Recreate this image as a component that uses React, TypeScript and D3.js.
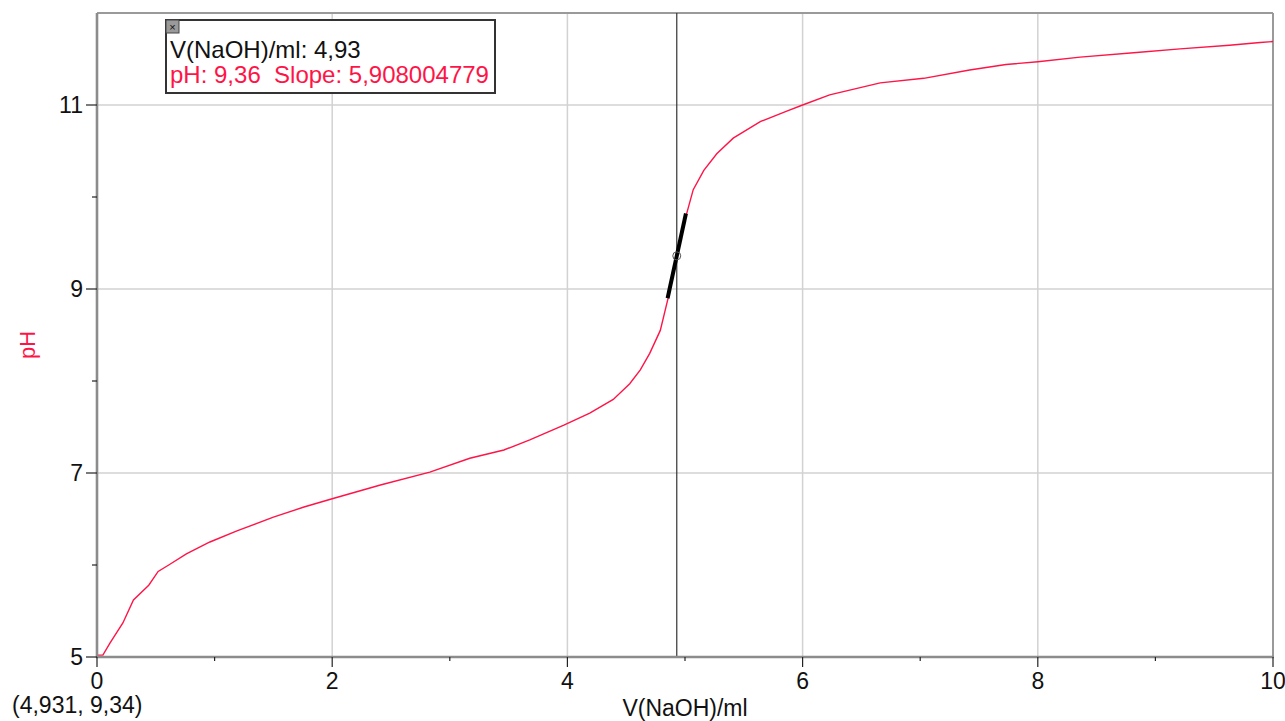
import React from "react";
import * as d3 from "d3";

// titration data
const volume = [0, 0.05, 0.11, 0.22, 0.31, 0.44, 0.52, 0.61, 0.76, 0.96, 1.19, 1.5, 1.76, 2.0, 2.41, 2.83, 3.17, 3.46, 3.68, 3.97, 4.19, 4.39, 4.53, 4.62, 4.7, 4.79, 4.86, 4.93, 5.01, 5.07, 5.16, 5.27, 5.41, 5.64, 5.86, 6.0, 6.23, 6.66, 7.03, 7.42, 7.73, 8.0, 8.36, 8.84, 9.21, 9.63, 9.89, 10.0];
const pH = [5.02, 5.02, 5.15, 5.37, 5.62, 5.78, 5.93, 6.0, 6.12, 6.25, 6.37, 6.52, 6.63, 6.72, 6.87, 7.01, 7.16, 7.25, 7.36, 7.52, 7.65, 7.8, 7.97, 8.12, 8.3, 8.55, 8.92, 9.36, 9.8, 10.08, 10.29, 10.47, 10.64, 10.82, 10.93, 11.0, 11.11, 11.24, 11.29, 11.38, 11.44, 11.47, 11.52, 11.57, 11.61, 11.65, 11.68, 11.69];

const xMajor = [0, 2, 4, 6, 8, 10];
const xMinor = [1, 3, 5, 7, 9];
const yMajor = [5, 7, 9, 11];
const yMinor = [6, 8, 10];

// examine cursor / tangent
const cursorV = 4.93;
const cursorPH = 9.36;
const slope = 5.908004779;
const tangentHalf = 0.078;
const readout = "(4,931, 9,34)";
const xTitle = "V(NaOH)/ml";
const yTitle = "pH";

const RED = "#ff1447";
const FONT = "'Liberation Sans', Arial, sans-serif";

export default function App() {
  const width = 1285;
  const height = 721;
  const left = 97, right = 1273, top = 13, bottom = 657;

  const x = d3.scaleLinear().domain([0, 10]).range([left, right]);
  const y = d3.scaleLinear().domain([5, 12]).range([bottom, top]);

  const points = volume.map((v, i) => [v, pH[i]] as [number, number]);
  const line = d3.line<[number, number]>()
    .x(d => x(d[0]))
    .y(d => y(d[1]));

  const t0 = cursorV - tangentHalf;
  const t1 = cursorV + tangentHalf;

  return (
    <svg width={width} height={height} style={{ position: "absolute", left: 0, top: 0, background: "#fff" }} fontFamily={FONT}>
      {/* grid */}
      {xMajor.filter(d => d > 0 && d < 10).map(d => (
        <line key={"gx" + d} x1={x(d)} x2={x(d)} y1={top} y2={bottom} stroke="#d2d2d2" strokeWidth={1.5} />
      ))}
      {yMajor.filter(d => d > 5).map(d => (
        <line key={"gy" + d} x1={left} x2={right} y1={y(d)} y2={y(d)} stroke="#d2d2d2" strokeWidth={1.5} />
      ))}

      {/* frame top / right */}
      <line x1={left} x2={right} y1={top} y2={top} stroke="#9a9a9a" strokeWidth={2} />
      <line x1={right} x2={right} y1={top} y2={bottom} stroke="#9a9a9a" strokeWidth={2} />

      {/* cursor line */}
      <line x1={x(cursorV)} x2={x(cursorV)} y1={top} y2={bottom} stroke="#333" strokeWidth={1.2} />

      {/* data */}
      <path d={line(points) || ""} fill="none" stroke={RED} strokeWidth={1.4} />

      {/* tangent */}
      <line x1={x(t0)} y1={y(cursorPH - slope * tangentHalf)} x2={x(t1)} y2={y(cursorPH + slope * tangentHalf)}
        stroke="#000" strokeWidth={4} />
      <circle cx={x(cursorV)} cy={y(cursorPH)} r={4} fill="none" stroke="#555" strokeWidth={1} />

      {/* axes */}
      <line x1={left} x2={left} y1={top} y2={bottom + 1} stroke="#8c8c8c" strokeWidth={2.6} />
      <line x1={left - 1} x2={right + 1} y1={bottom} y2={bottom} stroke="#8c8c8c" strokeWidth={2.6} />

      {xMajor.map(d => (
        <g key={"xt" + d}>
          <line x1={x(d)} x2={x(d)} y1={bottom} y2={bottom + 10} stroke="#222" strokeWidth={1.2} />
          <text x={x(d)} y={689} textAnchor="middle" fontSize={23} fill="#111">{d}</text>
        </g>
      ))}
      {xMinor.map(d => (
        <line key={"xm" + d} x1={x(d)} x2={x(d)} y1={bottom} y2={bottom + 4} stroke="#222" strokeWidth={1.2} />
      ))}
      {yMajor.map(d => (
        <g key={"yt" + d}>
          <line x1={left - 11} x2={left} y1={y(d)} y2={y(d)} stroke="#222" strokeWidth={1.2} />
          <text x={83} y={y(d) + 8} textAnchor="end" fontSize={23} fill="#111">{d}</text>
        </g>
      ))}
      {yMinor.map(d => (
        <line key={"ym" + d} x1={left - 5} x2={left} y1={y(d)} y2={y(d)} stroke="#222" strokeWidth={1.2} />
      ))}

      {/* titles */}
      <text x={(left + right) / 2} y={716} textAnchor="middle" fontSize={23} fill="#111">{xTitle}</text>
      <text transform={`translate(35,345) rotate(-90)`} textAnchor="middle" fontSize={22} fill={RED}>{yTitle}</text>
      <text x={12} y={713} fontSize={23} fill="#111">{readout}</text>

      {/* examine box */}
      <rect x={166} y={20} width={329} height={73} fill="#fff" stroke="#333" strokeWidth={2} />
      <rect x={166} y={20} width={13} height={13} fill="#9a9a9a" stroke="#444" strokeWidth={1} />
      <text x={172.5} y={30.5} textAnchor="middle" fontSize={11} fill="#111">×</text>
      <text x={170} y={58} fontSize={24} fill="#111">{`V(NaOH)/ml: ${cursorV.toFixed(2).replace(".", ",")}`}</text>
      <text x={170} y={83} fontSize={24} fill={RED} style={{ whiteSpace: "pre" }}>
        {`pH: ${cursorPH.toFixed(2).replace(".", ",")}  Slope: ${String(slope).replace(".", ",")}`}
      </text>
    </svg>
  );
}
